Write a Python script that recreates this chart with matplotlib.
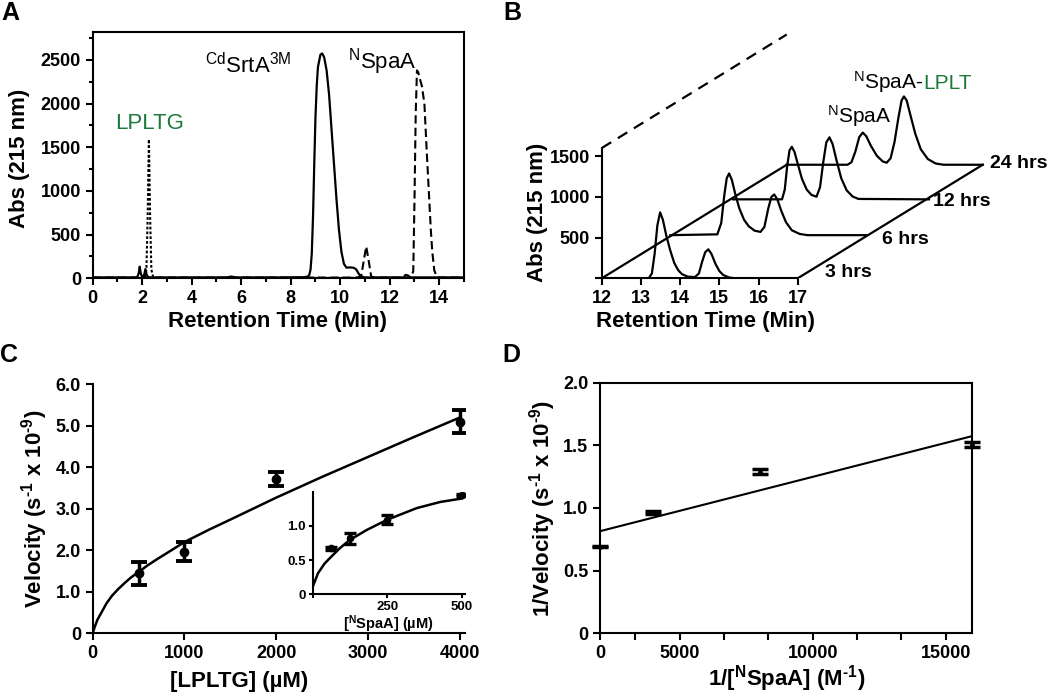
import numpy as np
import matplotlib
matplotlib.use("Agg")
import matplotlib.pyplot as plt
from matplotlib.ticker import MultipleLocator

plt.rcParams["font.family"] = ["Liberation Sans", "DejaVu Sans"]
plt.rcParams["mathtext.fontset"] = "custom"
plt.rcParams["mathtext.rm"] = "Liberation Sans"
plt.rcParams["mathtext.bf"] = "Liberation Sans:bold"
plt.rcParams["mathtext.it"] = "Liberation Sans:italic"
plt.rcParams["axes.linewidth"] = 1.5
plt.rcParams["xtick.major.width"] = 1.5
plt.rcParams["ytick.major.width"] = 1.5
plt.rcParams["xtick.minor.width"] = 1.5
plt.rcParams["ytick.minor.width"] = 1.5
plt.rcParams["xtick.major.size"] = 5
plt.rcParams["ytick.major.size"] = 5
plt.rcParams["xtick.minor.size"] = 3
plt.rcParams["ytick.minor.size"] = 3

GREEN = "#1b7a3a"

# ---- panel A: HPLC traces (time in min, absorbance) ----
srta_time = [0, 1.0, 1.8, 1.86, 1.9, 1.94, 2.0, 2.08, 2.13, 2.18, 2.25, 3.0, 5.4,
             5.6, 5.8, 7.5, 8.5, 8.7, 8.75, 8.8, 8.85, 8.9, 8.95, 9.0, 9.05,
             9.1, 9.2, 9.27, 9.35, 9.45, 9.55, 9.65, 9.75, 9.85, 9.95, 10.05,
             10.15, 10.25, 10.4, 10.55, 10.65, 10.75, 10.85, 11.0, 12.5, 15.0]
srta_abs = [10, 10, 10, 60, 133, 60, 10, 40, 106, 40, 10, 10, 10,
            20, 10, 10, 12, 20, 40, 100, 280, 700, 1300, 1850, 2200,
            2420, 2560, 2575, 2530, 2380, 2100, 1700, 1300, 900, 550, 300,
            165, 122, 125, 120, 100, 50, 20, 10, 10, 10]

lpltg_time = [0, 2.1, 2.17, 2.22, 2.27, 2.32, 2.37, 2.45, 15.0]
lpltg_abs = [5, 5, 100, 700, 1590, 700, 100, 5, 5]

spaa_time = [0, 10.7, 10.85, 10.95, 11.05, 11.15, 11.25, 11.4, 12.5, 12.65,
             12.75, 12.85, 12.95, 13.0, 13.05, 13.1, 13.15, 13.25, 13.3, 13.4,
             13.5, 13.6, 13.66, 13.72, 13.8, 13.9, 14.0, 15.0]
spaa_abs = [8, 8, 30, 200, 365, 200, 20, 8, 8, 40,
            30, 10, 80, 900, 1900, 2380, 2360, 2250, 2200, 2000,
            1420, 880, 550, 300, 90, 20, 8, 8]

# ---- panel B: stacked traces (local retention time, absorbance) ----
hrs_labels = ["3 hrs", "6 hrs", "12 hrs", "24 hrs"]
stack_dx = [0, 1.75, 3.35, 4.72]
stack_dy = [0, 530, 970, 1395]
t3 = [12, 13.2, 13.28, 13.35, 13.42, 13.49, 13.56, 13.65, 13.75, 13.85, 13.95,
      14.05, 14.2, 14.38, 14.48, 14.56, 14.64, 14.72, 14.8, 14.9, 15.0, 15.1,
      15.25, 15.4, 17]
v3 = [0, 0, 60, 300, 650, 810, 720, 520, 340, 190, 100,
      50, 20, 15, 60, 200, 320, 356, 300, 180, 90, 40,
      10, 0, 0]
t6 = [12, 13.2, 13.3, 13.38, 13.44, 13.5, 13.57, 13.66, 13.76, 13.88, 14.0,
      14.15, 14.3, 14.4, 14.5, 14.58, 14.65, 14.73, 14.83, 14.95, 15.1, 15.3,
      15.5, 17]
v6 = [0, 10, 150, 500, 700, 758, 680, 500, 330, 190, 110,
      55, 40, 100, 330, 470, 500, 440, 300, 160, 60, 15,
      0, 0]
t12 = [12, 13.25, 13.32, 13.38, 13.44, 13.5, 13.57, 13.66, 13.76, 13.88, 14.0,
       14.13, 14.22, 14.3, 14.38, 14.46, 14.54, 14.64, 14.76, 14.9, 15.05, 15.2,
       17]
v12 = [0, 0, 120, 400, 600, 646, 580, 420, 250, 120, 55,
       32, 150, 450, 700, 762, 680, 480, 260, 110, 35, 5,
       0]
t24 = [12, 13.55, 13.65, 13.75, 13.85, 13.94, 14.03, 14.15, 14.3, 14.45, 14.55,
       14.65, 14.75, 14.85, 14.93, 14.99, 15.06, 15.15, 15.28, 15.42, 15.6, 15.8,
       16.0, 17]
v24 = [0, 0, 30, 160, 340, 395, 350, 230, 110, 40, 25,
       80, 280, 580, 790, 839, 790, 620, 380, 190, 70, 15,
       0, 0]

# ---- panel C: velocity vs [LPLTG] ----
lpltg_conc = [500, 1000, 2000, 4000]
lpltg_vel = [1.45, 1.97, 3.72, 5.1]
lpltg_err = [0.28, 0.22, 0.16, 0.28]
fit_c_x = [0, 20, 50, 100, 150, 208, 280, 352, 420, 495, 600, 711, 850, 1000,
           1270, 1500, 2000, 2500, 3000, 3500, 4000]
fit_c_y = [0, 0.14, 0.32, 0.52, 0.72, 0.9, 1.07, 1.22, 1.35, 1.47, 1.64, 1.8,
           1.99, 2.2, 2.5, 2.74, 3.27, 3.77, 4.25, 4.73, 5.2]

# inset: velocity vs [NSpaA]
spaa_conc = [62.5, 125, 250, 500]
spaa_vel = [0.67, 0.82, 1.09, 1.45]
spaa_err = [0.02, 0.08, 0.065, 0.02]
fit_in_x = [0, 18, 40, 60, 90, 123, 181, 250, 349, 428, 500]
fit_in_y = [0.11, 0.31, 0.45, 0.54, 0.67, 0.79, 0.94, 1.09, 1.26, 1.35, 1.40]

# ---- panel D: double reciprocal ----
inv_spaa = [2000, 4000, 8000, 16000]
inv_vel = [0.69, 0.963, 1.29, 1.505]
inv_err = [0.005, 0.01, 0.02, 0.02]
fit_d_x = [2000, 16000]
fit_d_y = [0.815, 1.574]

fig = plt.figure(figsize=(10.5, 6.96), dpi=100)
W, H = 1050.0, 696.0


def rect(x0, y0, x1, y1):
    # pixel box (left, top, right, bottom) -> figure fraction
    return [x0 / W, 1 - y1 / H, (x1 - x0) / W, (y1 - y0) / H]


label_font = dict(fontsize=16, fontweight="bold")


def style_ticks(ax, size=13):
    ax.tick_params(which="both", direction="out", labelsize=size)
    for lab in ax.get_xticklabels() + ax.get_yticklabels():
        lab.set_fontweight("bold")


def place_labels(ax, xlabel, xc, ylabel, yc):
    ax.set_xlabel(xlabel, **label_font)
    ax.set_ylabel(ylabel, **label_font)
    ax.xaxis.set_label_coords(xc[0] / W, 1 - xc[1] / H, transform=fig.transFigure)
    ax.yaxis.set_label_coords(yc[0] / W, 1 - yc[1] / H, transform=fig.transFigure)
    ax.xaxis.label.set_va("center")
    ax.yaxis.label.set_va("center")


sup_bold = r"$^{\mathbf{%s}}$"
sup_reg = r"$^{\mathrm{%s}}$"
HY = "\u2010"  # plain hyphen, as in the figure (not a minus sign)

# ---------------- A ----------------
axA = fig.add_axes(rect(92.7, 32, 464, 278.3))
axA.plot(srta_time, srta_abs, color="black", lw=1.6)
axA.plot(lpltg_time, lpltg_abs, color="black", lw=1.5, ls=(0, (1.3, 1.0)))
axA.plot(spaa_time, spaa_abs, color="black", lw=1.5, ls=(0, (4, 2)))
axA.set_xlim(0, 15)
axA.set_ylim(0, 2820)
axA.set_xticks(range(0, 15, 2))
axA.xaxis.set_minor_locator(MultipleLocator(1))
axA.set_yticks(range(0, 2501, 500))
axA.yaxis.set_minor_locator(MultipleLocator(250))
axA.tick_params(top=False, right=False, which="both")
style_ticks(axA)
place_labels(axA, "Retention Time (Min)", (278, 322), "Abs (215 nm)", (20, 158))
axA.text(4.55, 2349, sup_reg % "Cd" + "SrtA" + sup_reg % "3M", fontsize=16)
axA.text(10.3, 2403, sup_reg % "N" + "SpaA", fontsize=16)
axA.text(0.9, 1705, "LPLTG", fontsize=16, color=GREEN)

# ---------------- B ----------------
axB = fig.add_axes(rect(601.7, 30, 1000, 278.3))
axB.set_xlim(12, 12 + (1000 - 601.7) / 39.2)
axB.set_ylim(0, (278.3 - 30) / 0.0814)
traces = [(t3, v3), (t6, v6), (t12, v12), (t24, v24)]
for (tt, vv), dx, dy in zip(traces, stack_dx, stack_dy):
    axB.plot(np.array(tt) + dx, np.array(vv) + dy, color="black", lw=1.6)
end_dx, end_dy = stack_dx[-1], stack_dy[-1]
axB.plot([12, 12 + end_dx], [0, end_dy], color="black", lw=1.6)
axB.plot([17, 17 + end_dx], [0, end_dy], color="black", lw=1.6)
axB.plot([12, 12 + end_dx], [1600, 1600 + end_dy], color="black", lw=1.6,
         ls=(0, (5, 3.5)))
label_pos = [(17.7, 69), (19.14, 479), (20.46, 941), (21.9, 1413)]
for (lx, ly), lab in zip(label_pos, hrs_labels):
    axB.text(lx, ly, lab, fontsize=14, fontweight="bold", va="center")
axB.text(17.74, 1912, sup_reg % "N" + "SpaA", fontsize=15)
t_spaa = axB.text(18.42, 2322, sup_reg % "N" + "SpaA-", fontsize=15)
axB.annotate("LPLT", xy=(1, 2322), xycoords=(t_spaa, "data"), fontsize=15,
             color=GREEN, va="baseline")
for s in ["top", "right"]:
    axB.spines[s].set_visible(False)
axB.spines["left"].set_bounds(0, 1600)
axB.spines["bottom"].set_bounds(12, 17)
axB.set_xticks(range(12, 18))
axB.set_yticks([0, 500, 1000, 1500])
axB.set_yticklabels(["", "500", "1000", "1500"])
style_ticks(axB)
place_labels(axB, "Retention Time (Min)", (705, 322), "Abs (215 nm)", (537, 212))

# ---------------- C ----------------
axC = fig.add_axes(rect(92.7, 384.3, 465, 633.3))
axC.plot(fit_c_x, fit_c_y, color="black", lw=1.8)
axC.errorbar(lpltg_conc, lpltg_vel, yerr=lpltg_err, fmt="o", color="black",
             ms=6, capsize=6, elinewidth=2.5, capthick=2.8)
axC.set_xlim(0, 4056)
axC.set_ylim(0, 6)
axC.set_xticks(range(0, 4001, 1000))
axC.set_yticks(range(0, 7))
axC.set_yticklabels(["0", "1.0", "2.0", "3.0", "4.0", "5.0", "6.0"])
for s in ["top", "right"]:
    axC.spines[s].set_visible(False)
style_ticks(axC)
place_labels(axC, "[LPLTG] (\u00b5M)", (239, 682),
             "Velocity (s" + sup_bold % (HY + "1") + " x 10" + sup_bold % (HY + "9") + ")",
             (35, 509))

axI = fig.add_axes(rect(312.7, 491.7, 465, 594.3))
axI.plot(fit_in_x, fit_in_y, color="black", lw=1.8)
axI.errorbar(spaa_conc, spaa_vel, yerr=spaa_err, fmt="o", color="black",
             ms=4.5, capsize=4, elinewidth=2.2, capthick=2.4)
axI.set_xlim(0, 511)
axI.set_ylim(0, 1.5)
axI.set_xticks([0, 250, 500])
axI.set_xticklabels(["", "250", "500"])
axI.set_yticks([0, 0.5, 1.0])
axI.set_yticklabels(["0", "0.5", "1.0"])
for s in ["top", "right"]:
    axI.spines[s].set_visible(False)
axI.tick_params(which="both", direction="out", labelsize=9.5, length=3, pad=2)
for lab in axI.get_xticklabels() + axI.get_yticklabels():
    lab.set_fontweight("bold")
axI.set_xlabel("[" + sup_bold % "N" + "SpaA] (\u00b5M)", fontsize=10.5,
               fontweight="bold", labelpad=0)

# ---------------- D ----------------
axD = fig.add_axes(rect(600, 382.7, 972.3, 633.3))
axD.plot(fit_d_x, fit_d_y, color="black", lw=1.5)
axD.errorbar(inv_spaa, inv_vel, yerr=inv_err, fmt="o", color="black",
             ms=2.5, capsize=6, elinewidth=2.2, capthick=2.5, clip_on=False)
axD.set_xlim(2000, 16000)
axD.set_ylim(0, 2)
d_ticks = [2000] + [k * 5000 / 3 for k in range(2, 10)]
axD.set_xticks(d_ticks)
axD.set_xticklabels(["0", "", "5000", "", "", "10000", "", "", "15000"])
axD.set_yticks([0, 0.5, 1.0, 1.5, 2.0])
axD.set_yticklabels(["0", "0.5", "1.0", "1.5", "2.0"])
axD.tick_params(top=False, right=False)
style_ticks(axD)
place_labels(axD, "1/[" + sup_bold % "N" + "SpaA] (M" + sup_bold % (HY + "1") + ")",
             (787, 679),
             "1/Velocity (s" + sup_bold % (HY + "1") + " x 10" + sup_bold % (HY + "9") + ")",
             (543, 509))

# panel letters
for letter, (px, py) in zip("ABCD", [(10, 13), (512, 13), (9, 355), (511, 355)]):
    fig.text(px / W, 1 - py / H, letter, fontsize=18, fontweight="bold",
             ha="center", va="center")

fig.savefig("out.png", dpi=100)
